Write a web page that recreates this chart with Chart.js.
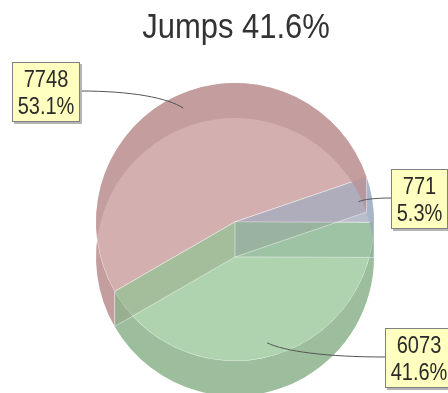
<!DOCTYPE html>
<html>
<head>
<meta charset="utf-8">
<script src="https://cdn.jsdelivr.net/npm/chart.js@4.4.1/dist/chart.umd.min.js"></script>
<style>
  html, body { margin: 0; padding: 0; background: #ffffff; }
  canvas { display: block; }
</style>
</head>
<body>
<canvas id="chart" width="448" height="393"></canvas>
<script>
// Slice categories and their counts
const categories = ['Walks', 'Falls', 'Jumps'];
const counts = [7748, 771, 6073];
// Category named in the chart title
const titleCategory = 'Jumps';

// Face colours (top) and side-wall colours for each slice
const topColors = ['#d4afaf', '#b9bccb', '#afd3af'];
const wallColors = ['#c49e9f', '#a7b5c8', '#9dbe9d'];
const wallTints = ['rgba(175,130,130,0.18)', 'rgba(140,155,185,0.18)', 'rgba(120,170,120,0.20)'];

const total = counts.reduce((s, v) => s + v, 0);
const pct = v => (v / total * 100).toFixed(1) + '%';

const DEPTH = 35;          // thickness of the pie, in pixels
const TEXT_SQUEEZE = 0.87; // horizontal condensing of label text
const FONT = '"Liberation Sans", Arial, Helvetica, sans-serif';

// Label boxes: top-left corner of each box, in slice order
const labelBoxes = [
  { x: 12, y: 62, side: 'right' },
  { x: 391, y: 169, side: 'left' },
  { x: 385, y: 328, side: 'left' }
];

function arcProps(el) {
  return el.getProps(['x', 'y', 'startAngle', 'endAngle', 'outerRadius'], true);
}

// Draws the pie's thickness: outer rim walls and the radial walls of each slice
const pieDepth = {
  id: 'pieDepth',
  afterDatasetsDraw(chart) {
    const ctx = chart.ctx;
    const arcs = chart.getDatasetMeta(0).data;
    ctx.save();
    // outer rim walls
    arcs.forEach((el, i) => {
      const { x, y, startAngle, endAngle, outerRadius: r } = arcProps(el);
      ctx.beginPath();
      ctx.arc(x, y, r, startAngle, endAngle);
      ctx.arc(x, y + DEPTH, r, endAngle, startAngle, true);
      ctx.closePath();
      ctx.fillStyle = wallColors[i];
      ctx.fill();
    });
    // radial walls (seen through the translucent top)
    arcs.forEach((el, i) => {
      const { x, y, startAngle, endAngle, outerRadius: r } = arcProps(el);
      [startAngle, endAngle].forEach(a => {
        const ex = x + r * Math.cos(a), ey = y + r * Math.sin(a);
        ctx.beginPath();
        ctx.moveTo(x, y);
        ctx.lineTo(ex, ey);
        ctx.lineTo(ex, ey + DEPTH);
        ctx.lineTo(x, y + DEPTH);
        ctx.closePath();
        ctx.fillStyle = wallTints[i];
        ctx.fill();
      });
    });
    // faint edges of the lower face
    ctx.strokeStyle = 'rgba(255,255,255,0.45)';
    ctx.lineWidth = 1;
    arcs.forEach(el => {
      const { x, y, startAngle, outerRadius: r } = arcProps(el);
      const ex = x + r * Math.cos(startAngle), ey = y + r * Math.sin(startAngle);
      ctx.beginPath();
      ctx.moveTo(x, y + DEPTH);
      ctx.lineTo(ex, ey + DEPTH);
      ctx.moveTo(ex, ey);
      ctx.lineTo(ex, ey + DEPTH);
      ctx.stroke();
    });
    if (arcs.length) {
      const { x, y } = arcProps(arcs[0]);
      ctx.beginPath();
      ctx.moveTo(x, y);
      ctx.lineTo(x, y + DEPTH);
      ctx.stroke();
    }
    ctx.restore();
  }
};

function squeezedText(ctx, text, cx, baseline, squeeze) {
  ctx.save();
  ctx.translate(cx, baseline);
  ctx.scale(squeeze, 1);
  ctx.textAlign = 'center';
  ctx.textBaseline = 'alphabetic';
  ctx.fillText(text, 0, 0);
  ctx.restore();
}

// Title, value labels and their connector curves
const pieLabels = {
  id: 'pieLabels',
  afterDraw(chart) {
    const ctx = chart.ctx;
    const arcs = chart.getDatasetMeta(0).data;
    ctx.save();

    // title
    ctx.fillStyle = '#333333';
    ctx.font = '35px ' + FONT;
    squeezedText(ctx, titleCategory + ' ' + pct(counts[categories.indexOf(titleCategory)]), 236, 37.5, 0.885);

    ctx.font = '23px ' + FONT;
    arcs.forEach((el, i) => {
      const { x, y, startAngle, endAngle, outerRadius: r } = arcProps(el);
      const box = labelBoxes[i];
      const lines = [String(counts[i]), pct(counts[i])];
      const tw = Math.max(...lines.map(s => ctx.measureText(s).width)) * TEXT_SQUEEZE;
      const w = Math.round(tw + 11);
      const h = 60;

      // connector from box edge to a point inside the slice
      const mid = (startAngle + endAngle) / 2;
      const ax = x + 0.9 * r * Math.cos(mid);
      const ay = y + 0.9 * r * Math.sin(mid);
      const sx = box.side === 'right' ? box.x + w : box.x;
      const sy = box.y + 29;
      ctx.beginPath();
      ctx.moveTo(sx, sy);
      ctx.bezierCurveTo(sx + (ax - sx) * 0.5, sy, ax - (ax - sx) * 0.15, ay - (ay - sy) * 0.6, ax, ay);
      ctx.strokeStyle = '#555555';
      ctx.lineWidth = 1;
      ctx.stroke();

      // box with shadow
      ctx.fillStyle = '#b5b5b5';
      ctx.fillRect(box.x + 2, box.y + 2, w, h);
      ctx.fillStyle = '#ffffc0';
      ctx.fillRect(box.x, box.y, w, h);
      ctx.strokeStyle = '#808080';
      ctx.strokeRect(box.x + 0.5, box.y + 0.5, w - 1, h - 1);

      ctx.fillStyle = '#2a2a2a';
      squeezedText(ctx, lines[0], box.x + w / 2, box.y + 25, TEXT_SQUEEZE);
      squeezedText(ctx, lines[1], box.x + w / 2, box.y + 52, TEXT_SQUEEZE);
    });
    ctx.restore();
  }
};

new Chart(document.getElementById('chart'), {
  type: 'pie',
  data: {
    labels: categories,
    datasets: [{
      data: counts,
      backgroundColor: topColors,
      borderColor: 'rgba(255,255,255,0.55)',
      borderWidth: 1,
      hoverOffset: 0,
      offset: 0
    }]
  },
  options: {
    responsive: false,
    animation: false,
    devicePixelRatio: 1,
    rotation: 240,
    layout: { padding: { left: 95.5, right: 73.5, top: 82.5, bottom: 31.5 } },
    plugins: {
      legend: { display: false },
      title: { display: false },
      tooltip: { enabled: false }
    }
  },
  plugins: [pieDepth, pieLabels]
});
</script>
</body>
</html>
